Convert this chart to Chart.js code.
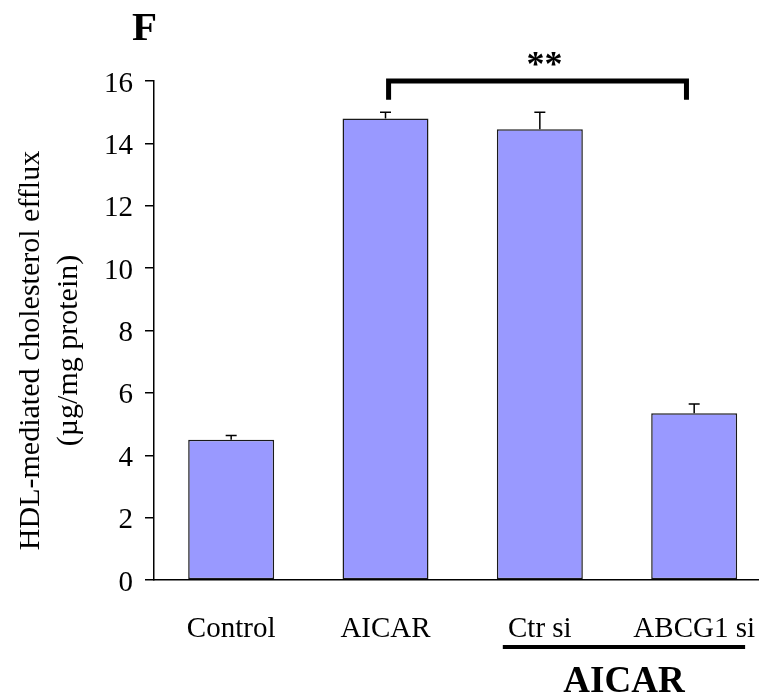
<!DOCTYPE html>
<html>
<head>
<meta charset="utf-8">
<script src="https://cdn.jsdelivr.net/npm/chart.js@4.4.0/dist/chart.umd.min.js"></script>
<style>
  html, body { margin: 0; padding: 0; background: #fff; }
  #wrap { width: 759px; height: 698px; }
</style>
</head>
<body>
<div id="wrap"><canvas id="chart" width="759" height="698"></canvas></div>
<script>
// Panel F - HDL-mediated cholesterol efflux
const categories = ['Control', 'AICAR', 'Ctr si', 'ABCG1 si'];
const efflux = [4.5, 14.8, 14.45, 5.35];
const effluxErr = [0.13, 0.2, 0.55, 0.29];
const yTicks = [0, 2, 4, 6, 8, 10, 12, 14, 16];
const yTitleLines = ['HDL-mediated cholesterol efflux', '(\u00b5g/mg protein)'];
const groupLabel = 'AICAR';
const panelLabel = 'F';
const sigLabel = '**';

const SERIF = '"Liberation Serif", "Times New Roman", serif';

const annotations = {
    id: 'annotations',
    afterDatasetsDraw(chart) {
        const ctx = chart.ctx;
        const xs = chart.scales.x;
        const ys = chart.scales.y;
        const area = chart.chartArea;
        ctx.save();
        ctx.strokeStyle = '#000';
        ctx.fillStyle = '#000';

        // error bars (upper only)
        ctx.lineWidth = 1.5;
        efflux.forEach((v, i) => {
            const x = xs.getPixelForValue(i);
            const y0 = ys.getPixelForValue(v);
            const y1 = ys.getPixelForValue(v + effluxErr[i]);
            ctx.beginPath();
            ctx.moveTo(x, y0);
            ctx.lineTo(x, y1);
            ctx.moveTo(x - 5.5, y1);
            ctx.lineTo(x + 5.5, y1);
            ctx.stroke();
        });

        // significance bracket AICAR vs ABCG1 si
        const bx1 = xs.getPixelForValue(1.02);
        const bx2 = xs.getPixelForValue(2.95);
        const by = ys.getPixelForValue(16);
        const byEnd = ys.getPixelForValue(15.4);
        ctx.lineWidth = 5;
        ctx.lineJoin = 'miter';
        ctx.beginPath();
        ctx.moveTo(bx1, byEnd);
        ctx.lineTo(bx1, by);
        ctx.lineTo(bx2, by);
        ctx.lineTo(bx2, byEnd);
        ctx.stroke();
        ctx.font = 'bold 36px ' + SERIF;
        ctx.textAlign = 'center';
        ctx.textBaseline = 'alphabetic';
        ctx.fillText(sigLabel, xs.getPixelForValue(2.03), by - 5);

        // group underline + label
        const gx1 = xs.getPixelForValue(1.76);
        const gx2 = xs.getPixelForValue(3.33);
        const gy = area.bottom + 67;
        ctx.lineWidth = 4;
        ctx.beginPath();
        ctx.moveTo(gx1, gy);
        ctx.lineTo(gx2, gy);
        ctx.stroke();
        ctx.font = 'bold 37px ' + SERIF;
        ctx.fillText(groupLabel, (gx1 + gx2) / 2, gy + 45);

        // panel letter
        ctx.font = 'bold 41px ' + SERIF;
        ctx.textAlign = 'left';
        ctx.fillText(panelLabel, area.left - 22, area.top - 41);

        // y axis title (two lines, rotated)
        ctx.font = '30px ' + SERIF;
        ctx.textAlign = 'center';
        const cy = (area.top + area.bottom) / 2 + 20;
        ctx.translate(0, cy);
        ctx.rotate(-Math.PI / 2);
        ctx.fillText(yTitleLines[0], 0, 39);
        ctx.fillText(yTitleLines[1], 0, 77);
        ctx.restore();
    }
};

new Chart(document.getElementById('chart'), {
    type: 'bar',
    data: {
        datasets: [{
            data: efflux.map((v, i) => ({ x: i, y: v })),
            backgroundColor: '#9999ff',
            borderColor: '#1a1a1a',
            borderWidth: 1.5,
            borderSkipped: false,
            barPercentage: 0.557,
            categoryPercentage: 1
        }]
    },
    options: {
        responsive: false,
        animation: false,
        devicePixelRatio: 1,
        layout: { padding: { top: 81, right: 0, left: 0, bottom: 0 } },
        plugins: { legend: { display: false }, tooltip: { enabled: false } },
        scales: {
            x: {
                type: 'linear',
                offset: false,
                min: -0.5,
                max: 3.42,
                afterFit(scale) {
                    scale.height = 118;
                    scale.paddingLeft = 0;
                    scale.paddingRight = 0;
                },
                grid: { display: false, offset: false },
                border: { display: true, color: '#000', width: 1.5 },
                ticks: {
                    stepSize: 1,
                    includeBounds: false,
                    autoSkip: false,
                    maxRotation: 0,
                    padding: 24,
                    color: '#000',
                    font: { family: SERIF, size: 29 },
                    callback: v => Number.isInteger(v) ? (categories[v] || '') : ''
                }
            },
            y: {
                min: 0,
                max: 16,
                afterFit(scale) { scale.width = 154; },
                afterBuildTicks(scale) { scale.ticks = yTicks.map(v => ({ value: v })); },
                grid: { drawOnChartArea: false, drawTicks: true, tickLength: 9, color: '#000', lineWidth: 1.5 },
                border: { display: true, color: '#000', width: 1.5 },
                ticks: {
                    padding: 12,
                    labelOffset: 3,
                    color: '#000',
                    font: { family: SERIF, size: 29 }
                }
            }
        }
    },
    plugins: [annotations]
});
</script>
</body>
</html>
